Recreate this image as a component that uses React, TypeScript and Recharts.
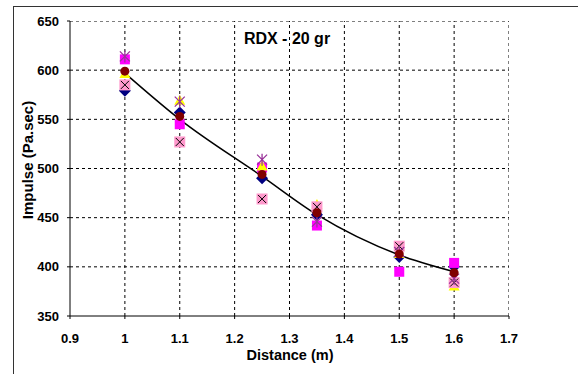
import { ComposedChart, Scatter, Line, XAxis, YAxis } from "recharts";

const distances = [1.0, 1.1, 1.25, 1.35, 1.5, 1.6];
const test1 = [579, 557, 490, 453, 410, 400];
const test2 = [611, 545, 501, 442, 395, 404];
const test3 = [596, 569, 502, 463, 413, 380];
const test4 = [585, 527, 469, 461, 421, 384];
const test5 = [614, 568, 509, 446, 415, 388];
const meanVals = [599, 553, 494, 455, 413, 394];
const fitVals = [597, 550, 492, 453, 412, 395];

const xTicks = [0.9, 1.0, 1.1, 1.2, 1.3, 1.4, 1.5, 1.6, 1.7];
const yTicks = [350, 400, 450, 500, 550, 600, 650];

const X_MIN = 0.9;
const X_MAX = 1.7;
const Y_MIN = 350;
const Y_MAX = 650;

const toPoints = (vals: number[]) => distances.map((x, i) => ({ x, y: vals[i] }));

const FONT = "'Liberation Sans', Arial, sans-serif";

const Diamond = ({ cx, cy }: any) => (
  <polygon points={`${cx},${cy - 6} ${cx + 6},${cy} ${cx},${cy + 6} ${cx - 6},${cy}`} fill="#000080" />
);
const Square = ({ cx, cy }: any) => <rect x={cx - 5} y={cy - 5} width={10} height={10} fill="#ff00ff" />;
const Triangle = ({ cx, cy }: any) => (
  <polygon points={`${cx},${cy - 6} ${cx + 5.5},${cy + 4} ${cx - 5.5},${cy + 4}`} fill="#ffff00" />
);
const XSquare = ({ cx, cy }: any) => (
  <g>
    <rect x={cx - 5.5} y={cy - 5.5} width={11} height={11} fill="#ff99cc" />
    <path d={`M${cx - 4},${cy - 4}L${cx + 4},${cy + 4}M${cx + 4},${cy - 4}L${cx - 4},${cy + 4}`} stroke="#000" strokeWidth={1} />
  </g>
);
const Star = ({ cx, cy }: any) => (
  <path
    d={`M${cx - 5},${cy - 5}L${cx + 5},${cy + 5}M${cx + 5},${cy - 5}L${cx - 5},${cy + 5}M${cx},${cy - 6}L${cx},${cy + 6}`}
    stroke="#993399"
    strokeWidth={1.3}
  />
);
const Dot = ({ cx, cy }: any) => <circle cx={cx} cy={cy} r={4.5} fill="#800000" />;

export default function App() {
  const tick = { fontSize: 13, fontWeight: 700, fill: "#000", fontFamily: FONT };
  return (
    <div style={{ position: "absolute", left: 0, top: 0, width: 578, height: 374, background: "#fff", overflow: "hidden" }}>
      <div style={{ position: "absolute", left: 0, top: 0 }}>
        <ComposedChart width={578} height={374} data={toPoints(fitVals)} margin={{ top: 21, right: 69, bottom: 0, left: 0 }}>
          <XAxis
            type="number"
            dataKey="x"
            domain={[X_MIN, X_MAX]}
            ticks={xTicks}
            tickFormatter={(v: number) => String(Number(v.toFixed(2)))}
            height={58}
            tick={tick}
            tickSize={3}
            tickMargin={15}
            stroke="#000"
            allowDataOverflow
          />
          <YAxis
            type="number"
            dataKey="y"
            domain={[Y_MIN, Y_MAX]}
            ticks={yTicks}
            width={70}
            tick={tick}
            tickSize={3}
            tickMargin={8}
            stroke="#000"
            allowDataOverflow
          />
          {/* dashed grid as line series (comma dash pattern renders here) */}
          {yTicks.slice(1).map((v) => (
            <Line
              key={"gy" + v}
              data={[{ x: X_MIN, y: v }, { x: X_MAX, y: v }]}
              dataKey="y"
              type="linear"
              stroke="#000"
              strokeWidth={1}
              strokeDasharray="3, 3"
              dot={false}
              isAnimationActive={false}
            />
          ))}
          {xTicks.slice(1).map((v) => (
            <Line
              key={"gx" + v}
              data={[{ x: v, y: Y_MIN }, { x: v, y: Y_MAX }]}
              dataKey="y"
              type="linear"
              stroke="#000"
              strokeWidth={1}
              strokeDasharray="3, 3"
              dot={false}
              isAnimationActive={false}
            />
          ))}
          <Line dataKey="y" type="monotone" stroke="#000" strokeWidth={1.5} dot={false} isAnimationActive={false} />
          <Scatter data={toPoints(test1)} shape={Diamond} isAnimationActive={false} />
          <Scatter data={toPoints(test2)} shape={Square} isAnimationActive={false} />
          <Scatter data={toPoints(test3)} shape={Triangle} isAnimationActive={false} />
          <Scatter data={toPoints(test4)} shape={XSquare} isAnimationActive={false} />
          <Scatter data={toPoints(test5)} shape={Star} isAnimationActive={false} />
          <Scatter data={toPoints(meanVals)} shape={Dot} isAnimationActive={false} />
        </ComposedChart>
      </div>
      <div style={{ position: "absolute", left: 13, top: 6, width: 700, height: 500, border: "1px solid #333", pointerEvents: "none" }} />
      <div style={{ position: "absolute", left: 287, top: 39, transform: "translate(-50%,-50%)", fontFamily: FONT, fontWeight: 700, fontSize: 16, whiteSpace: "pre" }}>
        RDX - 20 gr
      </div>
      <div style={{ position: "absolute", left: 290, top: 355, transform: "translate(-50%,-50%)", fontFamily: FONT, fontWeight: 700, fontSize: 14.5, whiteSpace: "nowrap" }}>
        Distance (m)
      </div>
      <div style={{ position: "absolute", left: 27, top: 160, transform: "translate(-50%,-50%) rotate(-90deg)", fontFamily: FONT, fontWeight: 700, fontSize: 15, whiteSpace: "nowrap" }}>
        Impulse (Pa.sec)
      </div>
    </div>
  );
}
